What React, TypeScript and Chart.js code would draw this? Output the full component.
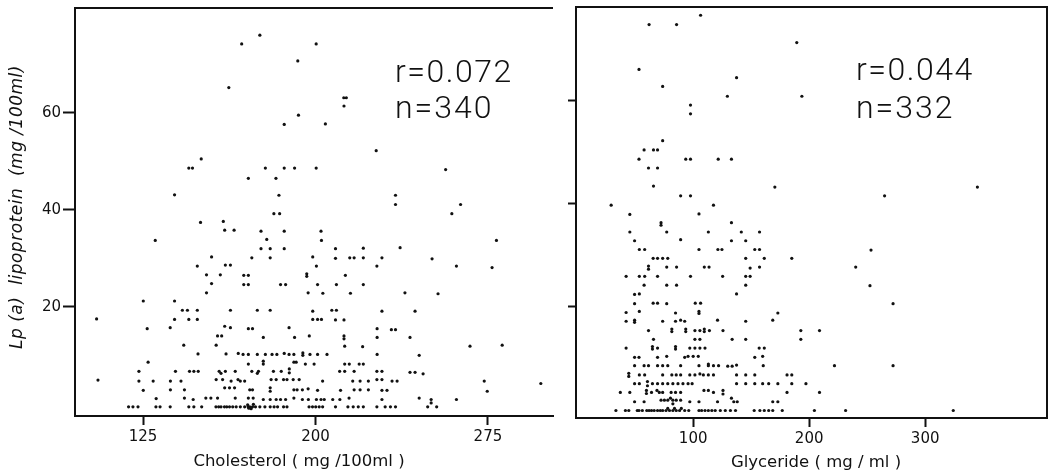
import React, { useEffect, useRef } from 'react';
import { Chart, registerables } from 'chart.js';

Chart.register(...registerables);

type P = [number, number];

const cholesterolTicks = [125, 200, 275];
const glycerideTicks = [100, 200, 300];
const lpaTicks = [20, 40, 60];

const leftNotes = ['r=0.072', 'n=340'];
const rightNotes = ['r=0.044', 'n=332'];
const cholesterolTitle = 'Cholesterol ( mg /100ml )';
const glycerideTitle = 'Glyceride ( mg / ml )';
const lpaTitle = 'Lp (a)  lipoprotein  (mg /100ml)';

// Cholesterol (mg/100ml) vs Lp(a) (mg/100ml)
const cholesterolPoints: P[] = [
  [175.8, 76.0], [167.9, 74.2], [200.3, 74.2], [192.3, 70.7], [162.3, 65.2], [212.3, 63.1], [213.4, 63.1],
  [212.4, 61.4], [192.6, 59.5], [186.4, 57.6], [204.3, 57.7], [226.4, 52.2], [150.3, 50.5], [144.9, 48.6],
  [146.5, 48.6], [178.2, 48.6], [186.4, 48.6], [190.9, 48.6], [200.3, 48.6], [256.6, 48.3], [170.8, 46.5],
  [182.8, 46.5], [138.7, 43.1], [184.1, 43.0], [234.8, 43.0], [234.8, 41.1], [263.1, 41.1], [181.9, 39.2],
  [184.4, 39.2], [259.3, 39.2], [150.0, 37.4], [159.9, 37.6], [160.5, 35.8], [164.6, 35.8], [176.3, 35.6],
  [186.4, 35.6], [202.4, 35.6], [130.3, 33.7], [178.8, 33.9], [202.6, 33.7], [278.7, 33.7], [176.3, 32.0],
  [180.3, 32.0], [186.4, 32.0], [208.7, 32.0], [220.8, 32.1], [236.8, 32.2], [154.8, 30.3], [172.3, 30.1],
  [180.3, 30.1], [198.8, 30.3], [208.7, 30.0], [214.9, 30.1], [216.8, 30.1], [220.8, 30.1], [228.9, 30.1],
  [250.7, 29.9], [148.6, 28.4], [160.8, 28.6], [163.0, 28.6], [200.4, 28.4], [226.7, 28.4], [261.3, 28.4],
  [276.8, 28.1], [152.6, 26.6], [158.6, 26.6], [196.2, 26.8], [196.2, 26.3], [168.8, 26.5], [170.8, 26.5],
  [213.0, 26.5], [154.8, 24.8], [168.8, 24.6], [170.8, 24.6], [184.8, 24.6], [187.0, 24.6], [200.9, 24.6],
  [209.1, 24.6], [220.8, 24.6], [152.6, 22.9], [196.8, 22.9], [203.2, 22.8], [215.2, 22.8], [238.9, 22.9],
  [253.3, 22.7], [125.1, 21.2], [138.7, 21.2], [142.1, 19.3], [144.3, 19.3], [148.6, 19.3], [163.0, 19.3],
  [174.7, 19.3], [180.3, 19.3], [198.8, 19.1], [207.1, 19.3], [209.1, 19.3], [228.9, 19.1], [243.3, 19.1],
  [104.8, 17.5], [138.7, 17.4], [144.9, 17.4], [148.6, 17.4], [198.8, 17.4], [200.9, 17.4], [202.6, 17.4],
  [208.7, 17.3], [212.4, 17.3], [126.8, 15.5], [136.8, 15.7], [160.5, 16.0], [163.0, 15.7], [170.8, 15.5],
  [172.6, 15.5], [188.5, 15.7], [226.8, 15.5], [233.0, 15.3], [234.8, 15.3], [157.4, 14.0], [159.2, 14.0],
  [177.3, 13.7], [190.9, 13.7], [197.3, 14.0], [212.4, 14.0], [212.4, 13.4], [226.8, 13.7], [241.1, 13.7],
  [142.7, 12.1], [156.8, 12.1], [212.7, 11.9], [220.5, 11.8], [267.2, 11.9], [281.2, 12.1],
  [148.9, 10.3], [161.1, 10.3], [166.4, 10.4], [168.5, 10.2], [170.8, 10.2], [174.7, 10.2], [178.2, 10.2],
  [181.1, 10.2], [183.2, 10.2], [186.4, 10.4], [188.5, 10.2], [190.6, 10.2], [194.5, 10.5], [194.5, 10.0],
  [197.6, 10.2], [200.9, 10.2], [205.0, 10.2], [226.8, 10.2], [245.1, 10.0],
  [127.2, 8.6], [170.8, 8.2], [177.3, 8.2], [177.3, 8.8], [190.6, 8.6], [191.6, 8.6], [195.6, 8.2],
  [199.4, 8.2], [212.7, 8.2], [214.7, 8.2], [219.0, 8.2], [220.8, 8.2],
  [123.2, 6.7], [139.1, 6.7], [145.2, 6.7], [147.1, 6.7], [149.0, 6.7], [158.1, 6.7], [158.9, 6.3],
  [160.8, 6.7], [165.1, 6.7], [172.3, 6.7], [174.7, 6.3], [175.2, 6.7], [181.7, 6.7], [185.1, 6.7],
  [188.6, 7.2], [188.6, 6.4], [210.5, 6.7], [212.7, 6.7], [216.8, 6.7], [226.7, 6.7], [228.9, 6.7],
  [241.1, 6.5], [243.3, 6.5], [246.8, 6.2],
  [105.4, 4.9], [123.2, 4.7], [129.4, 4.7], [136.9, 4.7], [141.5, 4.7], [156.8, 5.0], [159.6, 5.0],
  [163.3, 4.7], [166.3, 5.0], [167.3, 4.7], [169.2, 4.7], [180.7, 5.0], [182.9, 5.0], [186.1, 5.0],
  [187.6, 5.0], [190.3, 5.0], [192.9, 5.0], [203.1, 4.7], [216.2, 4.7], [219.4, 4.7], [223.0, 4.7],
  [226.7, 5.0], [228.9, 5.0], [233.3, 4.7], [235.5, 4.7], [273.4, 4.7], [298.0, 4.2],
  [125.1, 2.8], [136.9, 2.9], [143.0, 2.9], [160.5, 3.3], [162.6, 3.3], [164.8, 3.3], [171.4, 2.9],
  [172.6, 2.9], [180.3, 3.3], [180.3, 2.6], [190.6, 2.9], [192.0, 2.9], [194.3, 2.9], [196.8, 3.1],
  [200.9, 2.8], [210.9, 2.8], [216.8, 2.9], [219.4, 2.9], [223.0, 2.9], [228.9, 2.8], [231.1, 2.8],
  [274.7, 2.6],
  [130.7, 1.1], [143.0, 1.2], [146.8, 0.9], [152.3, 1.2], [154.5, 1.2], [157.4, 1.2], [165.1, 1.2],
  [170.8, 1.2], [172.9, 1.2], [177.3, 0.9], [180.3, 0.9], [182.9, 0.9], [184.8, 0.9], [187.0, 0.9],
  [190.6, 1.2], [194.3, 0.9], [196.9, 0.9], [200.4, 0.9], [202.4, 0.9], [203.8, 0.9], [207.5, 0.9],
  [210.6, 0.9], [214.6, 1.2], [228.9, 0.9], [245.1, 1.2], [250.3, 0.9], [250.3, 0.2], [261.3, 0.9],
  [118.7, -0.6], [120.6, -0.6], [122.8, -0.6], [130.6, -0.6], [132.4, -0.6], [136.8, -0.6], [144.9, -0.6],
  [147.1, -0.6], [150.5, -0.6], [156.7, -0.6], [157.9, -0.6], [158.9, -0.6], [160.4, -0.6], [161.4, -0.6],
  [162.6, -0.6], [164.0, -0.6], [165.5, -0.6], [167.3, -0.6], [169.2, -0.6], [170.7, -0.6], [171.4, -0.6],
  [172.6, -0.6], [173.9, -0.6], [175.8, -0.6], [178.0, -0.6], [180.3, -0.6], [182.0, -0.6], [183.5, -0.6],
  [186.1, -0.6], [187.6, -0.6], [197.2, -0.6], [198.7, -0.6], [200.1, -0.6], [201.6, -0.6], [203.1, -0.6],
  [208.7, -0.6], [214.1, -0.6], [216.4, -0.6], [218.6, -0.6], [220.8, -0.6], [226.7, -0.6], [230.3, -0.6],
  [232.6, -0.6], [234.8, -0.6], [248.8, -0.6], [252.7, -0.6], [170.5, -0.2], [172.0, -1.0], [171.0, -0.9],
  [173.0, -0.1],
];

// Glyceride (mg/ml) vs Lp(a) (mg/100ml)
const glyceridePoints: P[] = [
  [106.4, 76.5], [62.0, 74.7], [85.7, 74.7], [189.3, 71.2], [53.3, 66.0], [137.4, 64.4], [73.7, 62.7],
  [129.5, 60.8], [193.7, 60.8], [97.7, 59.1], [97.7, 57.4], [73.7, 52.2], [57.7, 50.4], [65.8, 50.4],
  [69.3, 50.4], [53.3, 48.6], [93.6, 48.6], [97.7, 48.6], [121.6, 48.6], [133.0, 48.6], [61.5, 46.9],
  [69.3, 46.9], [65.8, 43.4], [170.4, 43.2], [345.0, 43.2], [89.2, 41.5], [97.7, 41.5], [265.0, 41.5],
  [29.3, 39.7], [117.5, 39.7], [45.4, 37.9], [105.0, 38.0], [72.3, 36.3], [72.3, 35.8], [133.0, 36.3],
  [45.4, 34.5], [77.2, 34.5], [113.1, 34.5], [141.5, 34.5], [157.2, 34.5], [49.5, 32.8], [89.2, 33.0],
  [133.0, 32.8], [145.3, 32.8], [53.6, 31.1], [58.2, 31.1], [105.0, 31.1], [121.3, 31.1], [124.8, 31.1],
  [153.1, 31.1], [157.2, 31.1], [253.3, 31.0], [65.5, 29.4], [69.3, 29.4], [73.7, 29.4], [78.1, 29.4],
  [145.3, 29.4], [161.3, 29.4], [185.0, 29.4], [61.5, 27.9], [61.5, 27.3], [77.2, 27.7], [85.7, 27.7],
  [109.6, 27.7], [113.7, 27.7], [149.1, 27.5], [157.2, 27.7], [240.1, 27.7], [42.2, 25.9], [53.6, 25.9],
  [58.2, 25.9], [69.3, 25.9], [97.7, 25.9], [125.4, 25.9], [145.3, 25.9], [149.1, 25.9], [57.7, 24.2],
  [77.2, 24.2], [85.7, 24.2], [145.3, 24.2], [252.4, 24.1], [49.5, 22.4], [53.6, 22.5], [137.4, 22.5],
  [49.5, 20.6], [65.5, 20.7], [69.3, 20.7], [77.2, 20.6], [101.8, 20.7], [106.4, 20.7], [272.3, 20.6],
  [42.2, 18.9], [53.6, 19.1], [84.8, 18.8], [105.0, 19.1], [105.0, 18.7], [173.0, 18.8], [42.2, 17.2],
  [49.5, 17.4], [49.5, 17.0], [73.7, 17.2], [84.8, 17.2], [89.2, 17.4], [92.7, 17.2], [121.0, 17.4],
  [145.3, 17.2], [168.6, 17.4], [61.5, 15.4], [81.6, 15.7], [81.6, 15.2], [93.6, 15.7], [93.6, 15.2],
  [101.5, 15.4], [105.8, 15.4], [109.6, 15.7], [109.6, 15.2], [114.0, 15.4], [125.7, 15.4], [192.8, 15.4],
  [208.9, 15.4], [65.8, 13.7], [101.5, 13.7], [105.8, 13.7], [133.6, 13.7], [145.3, 13.7], [192.8, 13.7],
  [42.2, 12.0], [64.9, 12.3], [64.9, 11.8], [69.3, 12.0], [84.8, 12.3], [84.8, 11.8], [97.1, 12.0],
  [101.5, 12.0], [105.8, 12.0], [110.2, 12.0], [156.9, 12.0], [161.3, 12.0], [49.5, 10.2], [53.3, 10.2],
  [69.3, 10.2], [77.2, 10.4], [92.7, 10.2], [95.6, 10.4], [100.0, 10.4], [104.4, 10.4], [153.1, 10.2],
  [159.9, 10.4],
  [49.5, 8.6], [57.7, 8.6], [61.5, 8.6], [69.3, 8.6], [73.7, 8.6], [78.1, 8.6], [89.2, 8.6], [105.0, 8.6],
  [113.1, 8.9], [113.1, 8.6], [117.5, 8.6], [121.9, 8.6], [129.8, 8.5], [133.6, 8.5], [137.4, 8.7],
  [160.4, 8.6], [221.8, 8.6], [272.3, 8.6],
  [44.5, 7.1], [44.5, 6.5], [53.6, 6.8], [58.2, 6.8], [73.7, 6.8], [81.6, 6.8], [85.4, 6.8], [89.2, 6.8],
  [97.1, 6.8], [101.5, 6.8], [105.8, 7.0], [108.8, 6.8], [113.1, 6.8], [117.5, 6.8], [137.4, 6.8],
  [145.3, 6.8], [153.1, 6.8], [180.9, 6.8], [185.0, 6.8],
  [49.5, 5.1], [53.6, 5.1], [60.6, 5.5], [60.6, 4.7], [64.9, 5.1], [69.3, 5.1], [73.7, 5.1], [78.1, 5.1],
  [82.5, 5.1], [86.9, 5.1], [91.2, 5.1], [95.6, 5.1], [99.1, 5.1], [137.4, 5.1], [145.3, 5.1], [153.1, 5.1],
  [159.9, 5.1], [165.1, 5.1], [173.0, 5.1], [185.0, 5.1], [197.2, 5.1],
  [37.2, 3.4], [45.4, 3.4], [59.7, 3.8], [59.7, 3.2], [64.1, 3.4], [68.8, 3.8], [70.8, 3.4], [73.7, 3.4],
  [81.0, 3.4], [84.8, 3.4], [89.2, 3.4], [109.3, 3.8], [113.1, 3.8], [117.5, 3.4], [125.7, 3.8],
  [125.7, 3.1], [180.9, 3.4], [208.9, 3.4],
  [49.5, 1.6], [57.7, 1.6], [72.3, 1.9], [75.2, 1.9], [78.1, 1.9], [80.4, 2.3], [82.5, 1.9], [85.4, 1.9],
  [89.2, 1.9], [97.1, 1.6], [105.0, 1.6], [121.0, 1.6], [133.0, 2.3], [135.0, 1.6], [138.0, 1.6],
  [168.6, 1.6], [173.0, 1.6], [82.5, 1.2],
  [33.4, -0.1], [41.6, -0.1], [44.5, -0.1], [51.8, -0.1], [53.3, -0.1], [56.2, -0.1], [60.0, -0.1],
  [62.0, -0.1], [64.1, -0.1], [66.4, -0.1], [69.3, -0.1], [71.7, -0.1], [73.7, -0.1], [76.6, -0.1],
  [79.6, -0.1], [82.5, -0.1], [85.4, -0.1], [88.3, -0.1], [92.7, -0.1], [96.2, -0.1], [105.0, -0.1],
  [107.3, -0.1], [110.2, -0.1], [113.1, -0.1], [116.1, -0.1], [119.0, -0.1], [123.4, -0.1], [127.7, -0.1],
  [132.1, -0.1], [136.5, -0.1], [152.6, -0.1], [157.5, -0.1], [161.3, -0.1], [165.1, -0.1], [168.6, -0.1],
  [176.8, -0.1], [204.5, -0.1], [231.4, -0.1], [324.2, -0.1], [78.1, 0.3], [83.9, 0.3], [89.8, 0.3],
];

const INK = '#111';
const TICK_FONT = { family: '"DejaVu Sans", sans-serif', size: 15 };

type Txt = { text: string; x: number; y: number; font: string; align: CanvasTextAlign; baseline: CanvasTextBaseline; rotate?: number; spacing?: string };

const framePlugin = {
  id: 'frame',
  afterDraw(chart: any, _args: any, opts: any) {
    const { ctx, chartArea: a } = chart;
    ctx.save();
    ctx.strokeStyle = INK;
    ctx.lineWidth = 2;
    ctx.beginPath();
    ctx.moveTo(a.left, a.top);
    ctx.lineTo(a.right, a.top);
    if (opts.rightBorder) ctx.lineTo(a.right, a.bottom);
    ctx.stroke();
    const texts: Txt[] = opts.texts || [];
    for (const t of texts) {
      ctx.save();
      ctx.font = t.font;
      ctx.fillStyle = INK;
      ctx.textAlign = t.align;
      ctx.textBaseline = t.baseline;
      if (t.spacing) (ctx as any).letterSpacing = t.spacing;
      ctx.translate(t.x, t.y);
      if (t.rotate) ctx.rotate(t.rotate);
      ctx.fillText(t.text, 0, 0);
      ctx.restore();
    }
    ctx.restore();
  },
};

function makeConfig(opts: {
  points: P[]; xMin: number; xMax: number; yMin: number; yMax: number; xTicks: number[];
  yLabels: boolean; yWidth: number; xHeight: number; pad: { top: number; right: number };
  yTickLen: number; rightBorder: boolean; texts: Txt[];
}): any {
  return {
    type: 'scatter',
    data: {
      datasets: [{
        data: opts.points.map(([x, y]) => ({ x, y })),
        pointRadius: 1.6,
        pointHoverRadius: 1.6,
        backgroundColor: INK,
        borderWidth: 0,
      }],
    },
    plugins: [framePlugin],
    options: {
      animation: false,
      responsive: false,
      events: [],
      layout: { padding: { left: 0, right: opts.pad.right, top: opts.pad.top, bottom: 0 } },
      plugins: {
        legend: { display: false },
        tooltip: { enabled: false },
        frame: { rightBorder: opts.rightBorder, texts: opts.texts },
      },
      scales: {
        x: {
          type: 'linear',
          min: opts.xMin,
          max: opts.xMax,
          afterBuildTicks: (s: any) => { s.ticks = opts.xTicks.map((v) => ({ value: v })); },
          afterFit: (s: any) => { s.height = opts.xHeight; s.paddingLeft = 0; s.paddingRight = 0; },
          grid: { drawOnChartArea: false, drawTicks: true, tickLength: 9, tickWidth: 2, tickColor: INK },
          border: { display: true, color: INK, width: 2 },
          ticks: { color: INK, font: TICK_FONT, padding: 3, maxRotation: 0, autoSkip: false },
        },
        y: {
          type: 'linear',
          min: opts.yMin,
          max: opts.yMax,
          afterBuildTicks: (s: any) => { s.ticks = lpaTicks.map((v) => ({ value: v })); },
          afterFit: (s: any) => { s.width = opts.yWidth; s.paddingTop = 0; s.paddingBottom = 0; },
          grid: { drawOnChartArea: false, drawTicks: true, tickLength: opts.yTickLen, tickWidth: 2, tickColor: INK },
          border: { display: true, color: INK, width: 2 },
          ticks: { display: opts.yLabels, color: INK, font: TICK_FONT, padding: 2 },
        },
      },
    },
  };
}

const NOTE_FONT = '300 32px Roboto, "DejaVu Sans", sans-serif';
const TITLE_FONT = '16.5px "DejaVu Sans", sans-serif';

function Panel({ left, width, config }: { left: number; width: number; config: any }) {
  const ref = useRef<HTMLCanvasElement | null>(null);
  useEffect(() => {
    if (!ref.current) return;
    const chart = new Chart(ref.current, config);
    return () => chart.destroy();
  }, [config]);
  return (
    <div style={{ position: 'absolute', left, top: 0, width, height: 475 }}>
      <canvas ref={ref} width={width} height={475} style={{ width, height: 475, display: 'block' }} />
    </div>
  );
}

const leftConfig = makeConfig({
  points: cholesterolPoints,
  xMin: 95.4, xMax: 303.3, yMin: -2.5, yMax: 81.6,
  xTicks: cholesterolTicks, yLabels: true, yWidth: 75, xHeight: 59,
  pad: { top: 8, right: 7 }, yTickLen: 12, rightBorder: false,
  texts: [
    { text: leftNotes[0], x: 395, y: 82, font: NOTE_FONT, align: 'left', baseline: 'alphabetic', spacing: '1.5px' },
    { text: leftNotes[1], x: 395, y: 118, font: NOTE_FONT, align: 'left', baseline: 'alphabetic', spacing: '2px' },
    { text: cholesterolTitle, x: 299, y: 462, font: TITLE_FONT, align: 'center', baseline: 'middle' },
    { text: lpaTitle, x: 18, y: 207, font: 'italic 17px "DejaVu Sans", sans-serif', align: 'center', baseline: 'middle', rotate: -Math.PI / 2, spacing: '0.5px' },
  ],
});

const rightConfig = makeConfig({
  points: glyceridePoints,
  xMin: -1, xMax: 405, yMin: -1.55, yMax: 78.1,
  xTicks: glycerideTicks, yLabels: false, yWidth: 16, xHeight: 57,
  pad: { top: 7, right: 6 }, yTickLen: 8, rightBorder: true,
  texts: [
    { text: rightNotes[0], x: 296, y: 80, font: NOTE_FONT, align: 'left', baseline: 'alphabetic', spacing: '1.5px' },
    { text: rightNotes[1], x: 296, y: 118, font: NOTE_FONT, align: 'left', baseline: 'alphabetic', spacing: '2px' },
    { text: glycerideTitle, x: 256, y: 463, font: TITLE_FONT, align: 'center', baseline: 'middle' },
  ],
});

export default function App() {
  return (
    <div style={{ position: 'absolute', left: 0, top: 0, width: 1053, height: 475, background: '#fff', overflow: 'hidden' }}>
      <Panel left={0} width={560} config={leftConfig} />
      <Panel left={560} width={493} config={rightConfig} />
    </div>
  );
}
